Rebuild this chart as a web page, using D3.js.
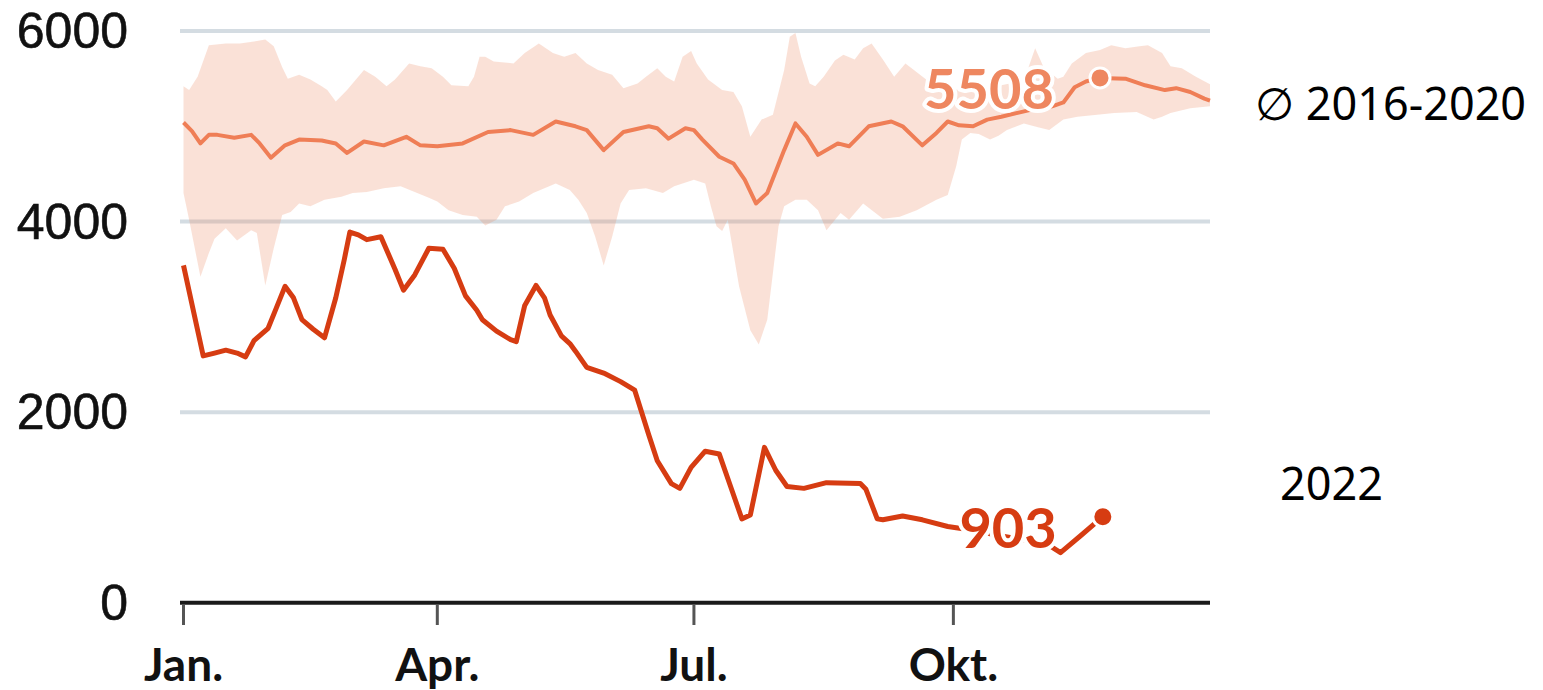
<!DOCTYPE html>
<html>
<head>
<meta charset="utf-8">
<script src="https://cdn.jsdelivr.net/npm/d3@7"></script>
<style>
  body { margin: 0; background: #fff; }
</style>
</head>
<body>
<div id="chart"></div>
<script>
// values, x = day of year 2022 (0 = 1 Jan)
const yTicks = [0, 2000, 4000, 6000];
const monthDays = [0, 90, 181, 273];
const monthLabels = ['Jan.', 'Apr.', 'Jul.', 'Okt.'];
const seriesNames = ['\u2205 2016-2020', '2022'];

const days2022 = [0, 7, 11, 15, 19, 22, 25, 30, 33, 36, 39, 42, 46, 50, 54, 57, 59, 62, 65, 70,
  75, 78, 82, 87, 92, 96, 100, 104, 106, 111, 116, 118, 121, 125, 128, 130, 134, 137, 139, 143,
  149, 155, 160, 165, 168, 173, 176, 180, 185, 190, 194, 198, 201, 206, 210, 214, 220, 228, 240, 242,
  246, 248, 255, 262, 271, 280, 290, 300, 306, 311, 318, 326];
const values2022 = [3540, 2590, 2620, 2650, 2620, 2580, 2750, 2880, 3100, 3320, 3200, 2970, 2870, 2780, 3200, 3600, 3890, 3860, 3810, 3840,
  3500, 3280, 3440, 3720, 3710, 3510, 3220, 3070, 2970, 2850, 2760, 2740, 3120, 3330, 3200, 3020, 2800, 2720, 2640, 2470,
  2410, 2320, 2230, 1760, 1490, 1250, 1200, 1420, 1590, 1560, 1220, 880, 920, 1630, 1390, 1220, 1200, 1260, 1250, 1190,
  880, 870, 910, 870, 800, 760, 700, 650, 620, 525, 700, 903];

const daysAvg = [0, 3, 6, 9, 12, 18, 24, 27, 31, 36, 41, 49, 54, 58, 64, 71, 79, 84, 90, 99,
  108, 116, 124, 132, 139, 143, 149, 156, 165, 168, 172, 178, 181, 184, 190, 195, 199, 203, 207, 213,
  217, 221, 225, 232, 236, 243, 251, 255, 262, 267, 271, 275, 280, 285, 290, 300, 308, 312, 316, 320,
  325, 334, 341, 348, 352, 357, 362, 364];
const valuesAvg = [5040, 4950, 4820, 4910, 4910, 4880, 4910, 4820, 4670, 4800, 4860, 4850, 4820, 4720, 4840, 4800, 4890, 4800, 4790, 4820,
  4940, 4960, 4910, 5050, 5000, 4960, 4750, 4940, 5000, 4980, 4870, 4980, 4960, 4860, 4680, 4610, 4440, 4190, 4300, 4750,
  5030, 4890, 4700, 4820, 4790, 5000, 5050, 5000, 4800, 4930, 5050, 5010, 5000, 5070, 5100, 5170, 5210, 5250, 5410, 5470,
  5508, 5500, 5430, 5380, 5400, 5360, 5290, 5270];

const daysBandHigh = [0, 2, 5, 9, 15, 20, 25, 29, 32, 35, 37, 41, 45, 49, 51, 54, 58, 64, 68, 72,
  75, 80, 84, 88, 92, 95, 101, 103, 105, 107, 110, 117, 121, 126, 131, 135, 139, 143, 147, 152,
  156, 161, 164, 168, 171, 174, 177, 180, 182, 186, 191, 195, 198, 201, 205, 209, 213, 215, 217, 219,
  222, 224, 227, 231, 234, 238, 241, 244, 248, 252, 256, 259, 263, 266, 270, 285, 298, 302, 305, 310,
  312, 315, 320, 325, 329, 334, 339, 342, 347, 350, 354, 359, 364];
const valuesBandHigh = [5420, 5380, 5520, 5850, 5870, 5870, 5890, 5910, 5840, 5620, 5500, 5540, 5490, 5420, 5380, 5260, 5380, 5590, 5520, 5420,
  5490, 5660, 5630, 5610, 5520, 5430, 5420, 5520, 5730, 5730, 5680, 5660, 5770, 5870, 5770, 5730, 5770, 5660, 5590, 5540,
  5400, 5450, 5520, 5610, 5520, 5470, 5730, 5790, 5660, 5490, 5380, 5360, 5210, 4890, 5070, 5120, 5590, 5940, 5980, 5730,
  5450, 5420, 5520, 5690, 5750, 5700, 5820, 5870, 5700, 5520, 5660, 5590, 5500, 5430, 5380, 5400, 5480, 5820, 5620, 5500,
  5520, 5660, 5770, 5800, 5850, 5820, 5840, 5850, 5770, 5630, 5610, 5520, 5440];

const daysBandLow = [0, 2, 6, 9, 11, 15, 19, 24, 26, 29, 32, 35, 38, 41, 45, 50, 56, 60, 65, 71,
  77, 82, 87, 90, 94, 99, 104, 107, 111, 114, 119, 124, 132, 137, 140, 143, 146, 149, 152, 155,
  158, 164, 170, 174, 181, 185, 187, 189, 191, 193, 197, 201, 204, 207, 211, 213, 217, 221, 225, 228,
  233, 236, 241, 248, 254, 260, 267, 271, 274, 276, 279, 282, 286, 289, 292, 298, 303, 307, 312, 317,
  324, 330, 338, 344, 347, 350, 357, 364];
const valuesBandLow = [4300, 4020, 3420, 3670, 3820, 3930, 3800, 3910, 3880, 3330, 3720, 4070, 4100, 4190, 4160, 4230, 4260, 4300, 4310, 4350,
  4370, 4310, 4250, 4210, 4120, 4070, 4050, 3960, 4020, 4160, 4210, 4300, 4400, 4330, 4230, 4090, 3840, 3540, 3840, 4190,
  4330, 4350, 4300, 4370, 4440, 4400, 4160, 3950, 3900, 4020, 3320, 2860, 2710, 2970, 3950, 4160, 4230, 4230, 4120, 3910,
  4090, 4020, 4190, 4030, 4050, 4120, 4230, 4280, 4580, 4860, 4930, 4920, 4860, 4900, 4960, 5030, 4990, 4960, 5070, 5100,
  5120, 5140, 5150, 5070, 5100, 5140, 5190, 5210];

const width = 1543, height = 690;
const start = new Date(2022, 0, 1);
const toDate = d => d3.timeDay.offset(start, d);

const x = d3.scaleTime()
  .domain([start, new Date(2022, 11, 31)])
  .range([183.5, 1210]);
const y = d3.scaleLinear()
  .domain([0, 6000])
  .range([602.7, 31]);

const svg = d3.select('#chart').append('svg')
  .attr('width', width)
  .attr('height', height);

// grid
svg.append('g')
  .selectAll('line')
  .data(yTicks.filter(t => t > 0))
  .join('line')
  .attr('x1', 180).attr('x2', 1210)
  .attr('y1', d => y(d)).attr('y2', d => y(d))
  .attr('stroke', '#d4dce2')
  .attr('stroke-width', 4);

// y labels
svg.append('g')
  .selectAll('text')
  .data(yTicks)
  .join('text')
  .attr('x', 128)
  .attr('y', d => y(d) + 17)
  .attr('text-anchor', 'end')
  .attr('font-family', '"Liberation Sans", Arial, sans-serif')
  .attr('font-size', 50)
  .attr('fill', '#111')
  .attr('stroke', '#111')
  .attr('stroke-width', 0.6)
  .text(d => d);

// band min/max 2016-2020
let upper = daysBandHigh.map((d, i) => [toDate(d), valuesBandHigh[i]]);
let lower = daysBandLow.map((d, i) => [toDate(d), valuesBandLow[i]]).reverse();
let polyLine = d3.line().x(d => x(d[0])).y(d => y(d[1]));

svg.append('path')
  .attr('d', polyLine(upper.concat(lower)) + 'Z')
  .attr('fill', '#ec8c64')
  .attr('fill-opacity', 0.26);

let line = d3.line()
  .x(d => x(toDate(d.day)))
  .y(d => y(d.value));

let avg = daysAvg.map((d, i) => ({ day: d, value: valuesAvg[i] }));
let cur = days2022.map((d, i) => ({ day: d, value: values2022[i] }));

svg.append('path')
  .datum(avg)
  .attr('d', line)
  .attr('fill', 'none')
  .attr('stroke', '#ef7e56')
  .attr('stroke-width', 4)
  .attr('stroke-linejoin', 'round');

svg.append('path')
  .datum(cur)
  .attr('d', line)
  .attr('fill', 'none')
  .attr('stroke', '#d63c12')
  .attr('stroke-width', 5)
  .attr('stroke-linejoin', 'round');

// x axis
svg.append('line')
  .attr('x1', 180).attr('x2', 1210)
  .attr('y1', y(0)).attr('y2', y(0))
  .attr('stroke', '#1a1a1a')
  .attr('stroke-width', 4);

let ticks = svg.append('g')
  .selectAll('g')
  .data(monthDays)
  .join('g')
  .attr('transform', d => `translate(${x(toDate(d))},0)`);

ticks.append('line')
  .attr('y1', y(0) + 2).attr('y2', 625)
  .attr('stroke', '#555')
  .attr('stroke-width', 3);

ticks.append('text')
  .attr('y', 681)
  .attr('text-anchor', 'middle')
  .attr('font-family', 'Lato, sans-serif')
  .attr('font-weight', 'bold')
  .attr('font-size', 46)
  .attr('fill', '#111')
  .text((d, i) => monthLabels[i]);

// end labels + dots
let ends = [
  { p: avg[daysAvg.indexOf(325)], color: '#ee8760' },
  { p: cur[cur.length - 1], color: '#d63c12' }
];

ends.forEach(e => {
  let px = x(toDate(e.p.day)), py = y(e.p.value);
  svg.append('text')
    .attr('x', px - 46)
    .attr('y', py + 31)
    .attr('text-anchor', 'end')
    .attr('font-family', 'Lato, sans-serif')
    .attr('font-weight', 'bold')
    .attr('font-size', 56)
    .attr('fill', e.color)
    .attr('stroke', '#fff')
    .attr('stroke-width', 8)
    .attr('stroke-linejoin', 'round')
    .attr('paint-order', 'stroke')
    .text(e.p.value);
  svg.append('circle')
    .attr('cx', px).attr('cy', py)
    .attr('r', 10)
    .attr('fill', e.color)
    .attr('stroke', '#fff')
    .attr('stroke-width', 3);
});

// legend
svg.append('text')
  .attr('x', 1255).attr('y', 120)
  .attr('font-family', '"Noto Sans", sans-serif')
  .attr('font-size', 45)
  .attr('fill', '#000')
  .text(seriesNames[0]);

svg.append('text')
  .attr('x', 1280).attr('y', 500)
  .attr('font-family', '"Noto Sans", sans-serif')
  .attr('font-size', 45)
  .attr('fill', '#000')
  .text(seriesNames[1]);
</script>
</body>
</html>
